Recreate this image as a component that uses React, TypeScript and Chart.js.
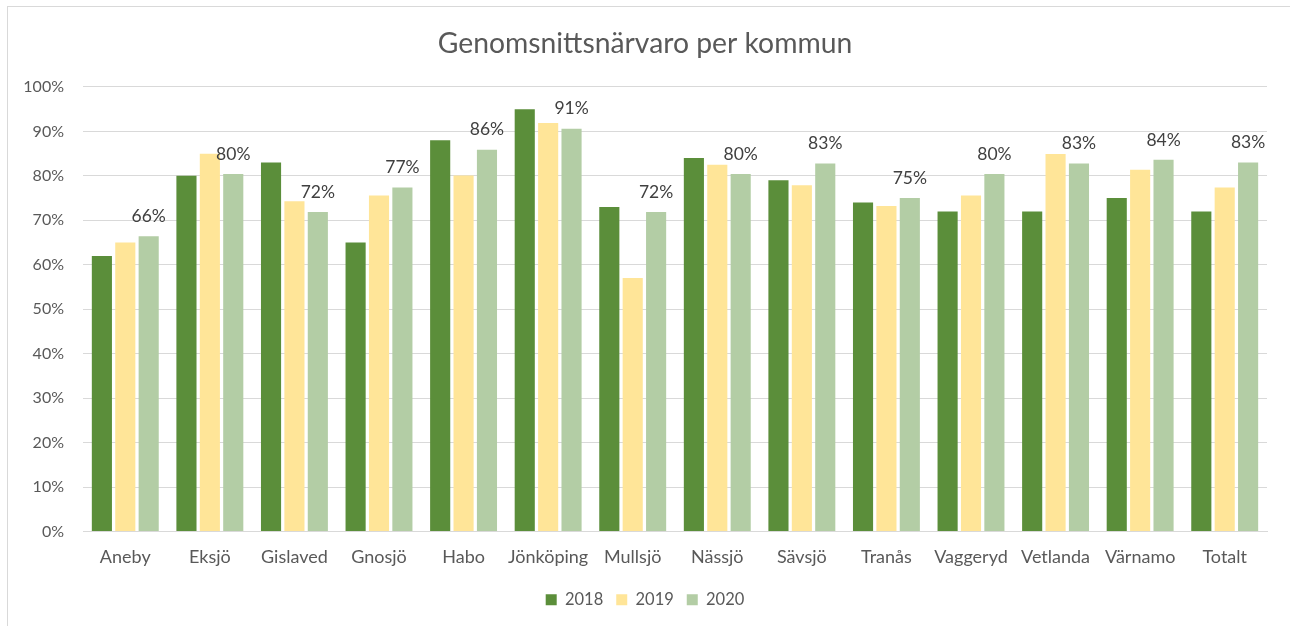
import React, { useEffect, useRef } from "react";
import { Chart, registerables } from "chart.js";

Chart.register(...registerables);

const categories = [
  "Aneby", "Eksjö", "Gislaved", "Gnosjö", "Habo", "Jönköping", "Mullsjö",
  "Nässjö", "Sävsjö", "Tranås", "Vaggeryd", "Vetlanda", "Värnamo", "Totalt",
];
const values2018 = [62, 80, 83, 65, 88, 95, 73, 84, 79, 74, 72, 72, 75, 72];
const values2019 = [65, 85, 74.3, 75.6, 80.1, 91.9, 57, 82.5, 77.9, 73.2, 75.6, 84.9, 81.4, 77.4];
const values2020 = [66.4, 80.4, 71.9, 77.4, 85.9, 90.6, 71.9, 80.4, 82.8, 75, 80.4, 82.8, 83.6, 83];
const seriesNames = ["2018", "2019", "2020"];
const yTicks = [0, 10, 20, 30, 40, 50, 60, 70, 80, 90, 100];

const FONT = "Lato, 'Open Sans', sans-serif";

const labelPlugin = {
  id: "labels2020",
  afterDatasetsDraw(chart: any) {
    const ctx = chart.ctx;
    const meta = chart.getDatasetMeta(2);
    ctx.save();
    ctx.font = `17.5px ${FONT}`;
    ctx.fillStyle = "#404040";
    ctx.textAlign = "center";
    ctx.textBaseline = "middle";
    meta.data.forEach((bar: any, i: number) => {
      const v = values2020[i];
      ctx.fillText(Math.round(v) + "%", bar.x, bar.y - 20);
    });
    ctx.restore();
  },
};

export default function App() {
  const ref = useRef<HTMLCanvasElement>(null);
  useEffect(() => {
    if (!ref.current) return;
    const chart = new Chart(ref.current, {
      type: "bar",
      data: {
        labels: categories,
        datasets: [
          { label: seriesNames[0], data: values2018, backgroundColor: "#5B8E3A" },
          { label: seriesNames[1], data: values2019, backgroundColor: "#FFE598" },
          { label: seriesNames[2], data: values2020, backgroundColor: "#B3CDA5" },
        ],
      },
      options: {
        responsive: false,
        animation: false,
        layout: { padding: { left: 0, right: 0, top: 0, bottom: 8 } },
        datasets: { bar: { categoryPercentage: 0.83, barPercentage: 0.86 } } as any,
        plugins: {
          title: {
            display: true,
            text: "Genomsnittsnärvaro per kommun",
            color: "#595959",
            font: { family: FONT, size: 28.3, weight: "normal" },
            padding: { top: 27, bottom: 26 },
          },
          legend: {
            position: "bottom",
            labels: {
              color: "#595959",
              font: { family: FONT, size: 16.5 },
              boxWidth: 11,
              boxHeight: 11,
              padding: 13,
            },
          },
          tooltip: { enabled: false },
        },
        scales: {
          x: {
            grid: { display: false, drawTicks: false },
            border: { display: true, color: "#D9D9D9", width: 1 },
            ticks: { color: "#595959", font: { family: FONT, size: 18 }, padding: 15, maxRotation: 0, autoSkip: false },
            afterFit: (s: any) => { s.height = 47; },
          },
          y: {
            min: 0,
            max: 100,
            afterBuildTicks: (s: any) => { s.ticks = yTicks.map((v) => ({ value: v })); },
            grid: { color: "#D9D9D9", lineWidth: 1, drawTicks: false },
            border: { display: false },
            ticks: {
              color: "#595959",
              font: { family: FONT, size: 16 },
              padding: 19,
              callback: (v: any) => v + "%",
            },
            afterFit: (s: any) => { s.width = 83; },
          },
          yRight: {
            position: "right",
            min: 0,
            max: 100,
            grid: { display: false, drawTicks: false },
            border: { display: false },
            ticks: { display: false },
            afterFit: (s: any) => { s.width = 23; },
          },
        },
      },
      plugins: [labelPlugin],
    });
    return () => chart.destroy();
  }, []);
  return (
    <div style={{ position: "fixed", left: 0, top: 0, width: 1290, height: 626, background: "#fff" }}>
      <div style={{ position: "absolute", left: 7, top: 6, width: 1300, height: 640, borderLeft: "1px solid #D9D9D9", borderTop: "1px solid #D9D9D9" }} />
      <canvas ref={ref} width={1290} height={626} style={{ position: "absolute", left: 0, top: 0 }} />
    </div>
  );
}
